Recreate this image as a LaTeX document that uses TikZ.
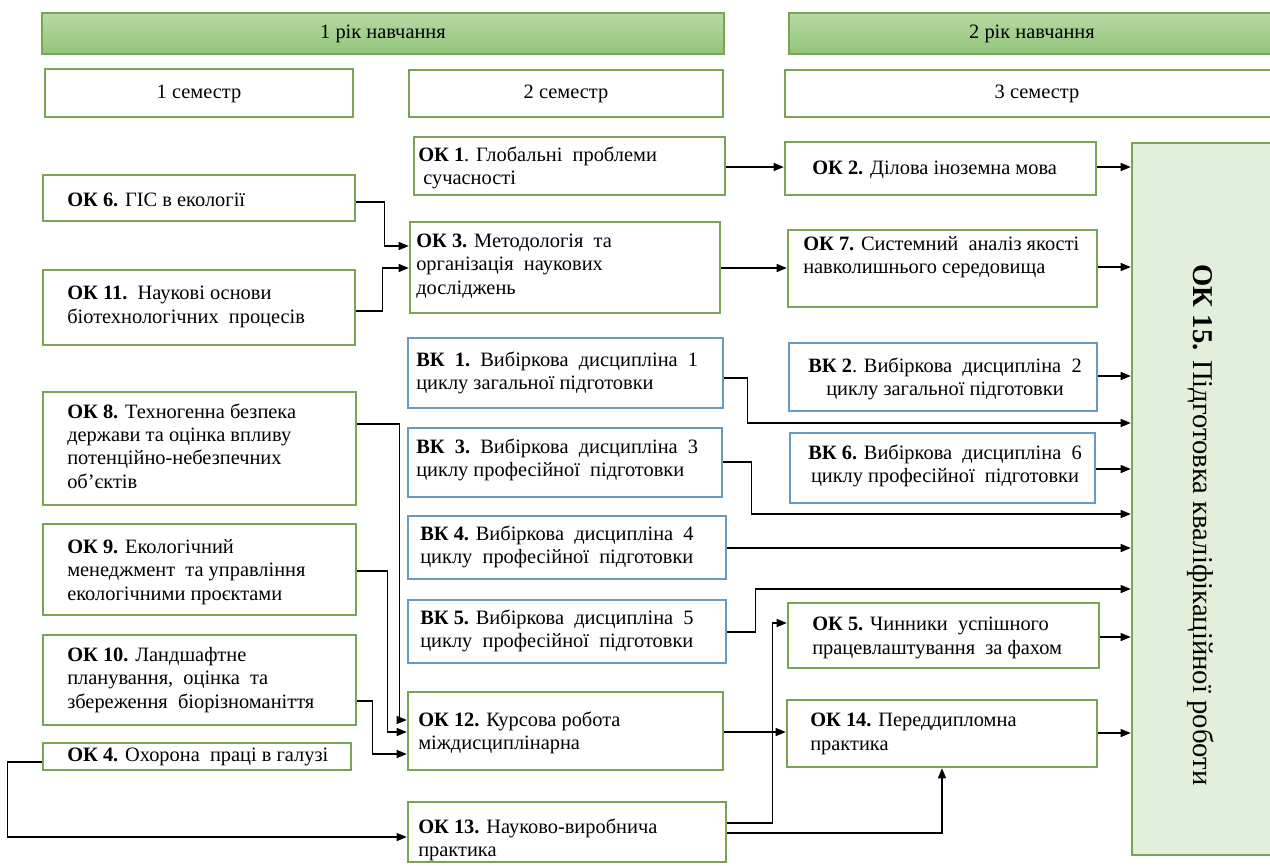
\documentclass[tikz,border=0pt]{standalone}
\usepackage{fontspec}
\setmainfont{Liberation Serif}
\usetikzlibrary{arrows.meta,calc}
\definecolor{gborder}{RGB}{120,164,84}
\definecolor{bborder}{RGB}{104,152,196}
\definecolor{bartop}{RGB}{184,218,164}
\definecolor{barbot}{RGB}{146,196,122}
\definecolor{okfill}{RGB}{226,239,218}
\newcommand{\mkbox}[6]{\node[#2, minimum width={(#5-#3)*0.75pt}, minimum height={(#6-#4)*0.75pt}] (#1) at ({(#3+#5)/2},{(#4+#6)/2}) {};}
\newcommand{\mktxt}[4]{\node[txt, anchor=west] (#1) at (#2,#3) {#4};}
\newcommand{\mkctxt}[4]{\node[txt, align=center] (#1) at (#2,#3) {#4};}
\begin{document}
\begin{tikzpicture}[x=0.75pt,y=-0.75pt,
  gbox/.style={draw=gborder, line width=1.9pt, fill=white, inner sep=0pt},
  bbox/.style={draw=bborder, line width=1.9pt, fill=white, inner sep=0pt},
  barbox/.style={draw=gborder, line width=0.8pt, top color=bartop, bottom color=barbot, inner sep=0pt},
  bigbox/.style={draw=gborder, line width=1.9pt, fill=okfill, inner sep=0pt},
  txt/.style={align=left, inner sep=0pt, font=\fontsize{15.3}{17.5}\selectfont},
  arr/.style={-{Triangle[length=7.5pt,width=6pt]}, line width=0.9pt, black}]
\useasboundingbox (0,0) rectangle (1270,865);
\fill[white] (0,0) rectangle (1270,865);

% headers
\mkbox{yr1}{barbox}{42}{13}{724}{54}
\mkctxt{t-yr1}{383}{34}{1 рік навчання}
\mkbox{yr2}{barbox}{789}{13}{1280}{54}
\mkctxt{t-yr2}{1032}{34}{2 рік навчання}
\mkbox{sem1}{gbox}{45}{69}{353}{117}
\mkctxt{t-sem1}{199}{94}{1 семестр}
\mkbox{sem2}{gbox}{409}{70}{723}{117}
\mkctxt{t-sem2}{566}{94}{2 семестр}
\mkbox{sem3}{gbox}{785}{70}{1290}{117}
\mkctxt{t-sem3}{1037}{94}{3 семестр}

% column 1
\mkbox{ok6}{gbox}{43}{175}{355}{221}
\mktxt{t-ok6}{67}{200}{\textbf{ОК 6.} ГІС в екології}
\mkbox{ok11}{gbox}{43}{270}{355}{345}
\mktxt{t-ok11}{67}{307}{\textbf{ОК 11.}\ \ Наукові основи\\біотехнологічних\ \ процесів}
\mkbox{ok8}{gbox}{43}{392}{356}{505}
\mktxt{t-ok8}{67}{446}{\textbf{ОК 8.} Техногенна безпека\\держави та оцінка впливу\\потенційно-небезпечних\\об’єктів}
\mkbox{ok9}{gbox}{43}{524}{356}{615}
\mktxt{t-ok9}{67}{572}{\textbf{ОК 9.} Екологічний\\менеджмент\ \ та управління\\екологічними проєктами}
\mkbox{ok10}{gbox}{43}{635}{356}{725}
\mktxt{t-ok10}{67}{680}{\textbf{ОК 10.} Ландшафтне\\планування,\ \ оцінка\ \ та\\збереження\ \ біорізноманіття}
\mkbox{ok4}{gbox}{43}{743}{351}{770}
\mktxt{t-ok4}{67}{757}{\textbf{ОК 4.} Охорона\ \ праці в галузі}

% column 2
\mkbox{ok1}{gbox}{414}{137}{725}{195}
\mktxt{t-ok1}{418}{168}{\textbf{ОК 1}. Глобальні\ \ проблеми\\\ сучасності}
\mkbox{ok3}{gbox}{410}{222}{720}{313}
\mktxt{t-ok3}{416}{266}{\textbf{ОК 3.} Методологія\ \ та\\організація\ \ наукових\\досліджень}
\mkbox{vk1}{bbox}{408}{338}{723}{408}
\mktxt{t-vk1}{416}{373}{\textbf{ВК\ \ 1.}\ \ Вибіркова\ \ дисципліна\ \ 1\\циклу загальної підготовки}
\mkbox{vk3}{bbox}{408}{428}{722}{497}
\mktxt{t-vk3}{416}{460}{\textbf{ВК\ \ 3.}\ \ Вибіркова\ \ дисципліна\ \ 3\\циклу професійної\ \ підготовки}
\mkbox{vk4}{bbox}{408}{516}{726}{579}
\mktxt{t-vk4}{420}{547}{\textbf{ВК 4.} Вибіркова\ \ дисципліна\ \ 4\\циклу\ \ професійної\ \ підготовки}
\mkbox{vk5}{bbox}{408}{600}{726}{663}
\mktxt{t-vk5}{420}{631}{\textbf{ВК 5.} Вибіркова\ \ дисципліна\ \ 5\\циклу\ \ професійної\ \ підготовки}
\mkbox{ok12}{gbox}{408}{692}{723}{770}
\mktxt{t-ok12}{418}{733}{\textbf{ОК 12.} Курсова робота\\міждисциплінарна}
\mkbox{ok13}{gbox}{408}{802}{726}{862}
\mktxt{t-ok13}{418}{840}{\textbf{ОК 13.} Науково-виробнича\\практика}

% column 3
\mkbox{ok2}{gbox}{785}{142}{1096}{195}
\mktxt{t-ok2}{812}{170}{\textbf{ОК 2.} Ділова іноземна мова}
\mkbox{ok7}{gbox}{788}{230}{1097}{307}
\mktxt{t-ok7}{803}{257}{\textbf{ОК 7.} Системний\ \ аналіз якості\\навколишнього середовища}
\mkbox{vk2}{bbox}{789}{343}{1097}{411}
\mkctxt{t-vk2}{945}{379}{\textbf{ВК 2}. Вибіркова\ \ дисципліна\ \ 2\\циклу загальної підготовки}
\mkbox{vk6}{bbox}{790}{433}{1095}{503}
\mkctxt{t-vk6}{945}{466}{\textbf{ВК 6.} Вибіркова\ \ дисципліна\ \ 6\\циклу професійної\ \ підготовки}
\mkbox{ok5}{gbox}{788}{603}{1099}{668}
\mktxt{t-ok5}{812}{638}{\textbf{ОК 5.} Чинники\ \ успішного\\працевлаштування\ \ за фахом}
\mkbox{ok14}{gbox}{787}{700}{1097}{767}
\mktxt{t-ok14}{810}{734}{\textbf{ОК 14.} Переддипломна\\практика}

% final
\mkbox{ok15}{bigbox}{1132}{143}{1280}{855}
\node[rotate=-90, inner sep=0pt, font=\fontsize{21.5}{25}\selectfont] (t-ok15) at (1201,525) {\textbf{ОК 15.} Підготовка кваліфікаційної роботи};

% connectors
\draw[arr] (ok1.east |- 0,167) -- (ok2.west |- 0,167);
\draw[arr] (ok2.east |- 0,167) -- (ok15.west |- 0,167);
\draw[arr] (ok6.east |- 0,202) -- ++(28,0) |- (ok3.west |- 0,246);
\draw[arr] (ok11.east |- 0,311) -- ++(26,0) |- (ok3.west |- 0,268);
\draw[arr] (ok3.east |- 0,268) -- (ok7.west |- 0,268);
\draw[arr] (ok7.east |- 0,267) -- (ok15.west |- 0,267);
\draw[arr] (vk1.east |- 0,378) -- ++(23,0) |- (ok15.west |- 0,423);
\draw[arr] (vk2.east |- 0,376) -- (ok15.west |- 0,376);
\draw[arr] (vk3.east |- 0,462) -- ++(28,0) |- (ok15.west |- 0,514);
\draw[arr] (vk6.east |- 0,469) -- (ok15.west |- 0,469);
\draw[arr] (vk4.east |- 0,548) -- (ok15.west |- 0,548);
\draw[arr] (vk5.east |- 0,632) -- ++(28,0) |- (ok15.west |- 0,589);
\draw[arr] (ok5.east |- 0,637) -- (ok15.west |- 0,637);
\draw[arr] (ok8.east |- 0,424) -- ++(42,0) |- (ok12.west |- 0,720);
\draw[arr] (ok9.east |- 0,571) -- ++(30,0) |- (ok12.west |- 0,732);
\draw[arr] (ok10.east |- 0,701) -- ++(15,0) |- (ok12.west |- 0,754);
\draw[arr] (ok12.east |- 0,732) -- (ok14.west |- 0,732);
\draw[arr] (ok14.east |- 0,733) -- (ok15.west |- 0,733);
\draw[arr] (ok4.west |- 0,762) -- ++(-34,0) |- (ok13.west |- 0,837);
\draw[arr] (ok13.east |- 0,823) -- ++(45,0) |- (ok5.west |- 0,623);
\draw[arr] (ok13.east |- 0,833) -| (ok14.south);
\end{tikzpicture}
\end{document}
